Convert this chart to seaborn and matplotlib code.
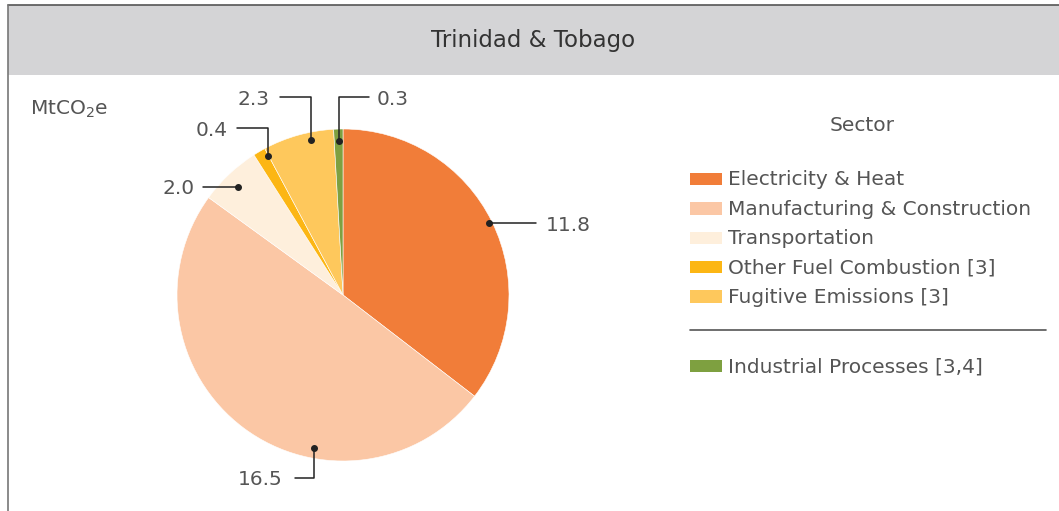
import matplotlib
matplotlib.use("Agg")
import matplotlib.pyplot as plt
import seaborn as sns
import numpy as np
from matplotlib.patches import Rectangle

# Data: Trinidad & Tobago emissions by sector (MtCO2e)
sectors = ["Electricity & Heat", "Manufacturing & Construction", "Transportation",
           "Other Fuel Combustion [3]", "Fugitive Emissions [3]", "Industrial Processes [3,4]"]
values = [11.8, 16.5, 2.0, 0.4, 2.3, 0.3]
labels = ["11.8", "16.5", "2.0", "0.4", "2.3", "0.3"]
colors = ["#f17d39", "#fbc7a5", "#feefdc", "#fcb614", "#fec85c", "#7ea040"]

sns.set_theme(style="white")
plt.rcParams['font.family'] = ['DejaVu Sans']

W, H = 1059, 511
fig = plt.figure(figsize=(W / 100, H / 100), dpi=100)
ax = fig.add_axes([0, 0, 1, 1])

def py(y):
    # pixel row (from top) -> data y
    return H - y

TXT = "#555555"
LINE = "#222222"

# header bar and frame
ax.add_patch(Rectangle((8, py(75)), W, 70, facecolor="#d4d4d6", edgecolor="none", zorder=0))
ax.plot([8, W], [py(5), py(5)], color="#555555", lw=1.2, zorder=1)
ax.plot([8, 8], [py(5), 0], color="#777777", lw=1.2, zorder=1)
ax.text(533, py(40), "Trinidad & Tobago", ha="center", va="center", fontsize=16.5, color="#333333")

ax.text(30, py(115), "MtCO$_2$e", ha="left", va="baseline", fontsize=14.5, color=TXT)

# pie
cx, cy, R = 343, py(295), 166
wedges, _ = ax.pie(values, colors=colors, startangle=90, counterclock=False,
                   center=(cx, cy), radius=R,
                   wedgeprops=dict(edgecolor="white", linewidth=0.4))

# leader lines: angle nudge (deg clockwise), radial position, level (fraction of R, None = straight), run (px)
nudge = [0, -26, -1, 2, 4, 0]
rpos = [0.98, 0.94, 0.91, 0.95, 0.955, 0.93]
level = [None, -1.10, None, 1.005, 1.19, 1.19]
run = [47, -19, -35, -31, -31, 30]
gap = [10, 12, 8, 10, 10, 8]

for w, lab, nd, rp, lv, rn, gp in zip(wedges, labels, nudge, rpos, level, run, gap):
    ang = np.deg2rad((w.theta1 + w.theta2) / 2 - nd)
    dx, dy = cx + rp * R * np.cos(ang), cy + rp * R * np.sin(ang)
    ey = dy if lv is None else cy + lv * R
    ex = dx + rn
    ax.plot([dx, dx, ex], [dy, ey, ey], color=LINE, lw=1.1, zorder=4)
    ax.plot(dx, dy, "o", ms=4, color=LINE, zorder=5)
    tx = ex + gp if rn > 0 else ex - gp
    ax.text(tx, ey - 2, lab, ha="left" if rn > 0 else "right", va="center",
            fontsize=14.5, color=TXT)

# legend
ax.text(862, py(125), "Sector", ha="center", va="center", fontsize=14.5, color=TXT)
rows = [179.3, 208.6, 238, 267.3, 296.7, 366]
for name, col, ry in zip(sectors, colors, rows):
    ax.add_patch(Rectangle((690, py(ry + 6)), 32, 12.4, facecolor=col, edgecolor="none"))
    ax.text(728, py(ry + 6), name, ha="left", va="baseline", fontsize=14.5, color=TXT)
ax.plot([690, 1046], [py(330), py(330)], color="#555555", lw=1.2)

ax.set_xlim(0, W)
ax.set_ylim(0, H)
ax.set_aspect("auto")
ax.axis("off")

fig.savefig("out.png", dpi=100)
